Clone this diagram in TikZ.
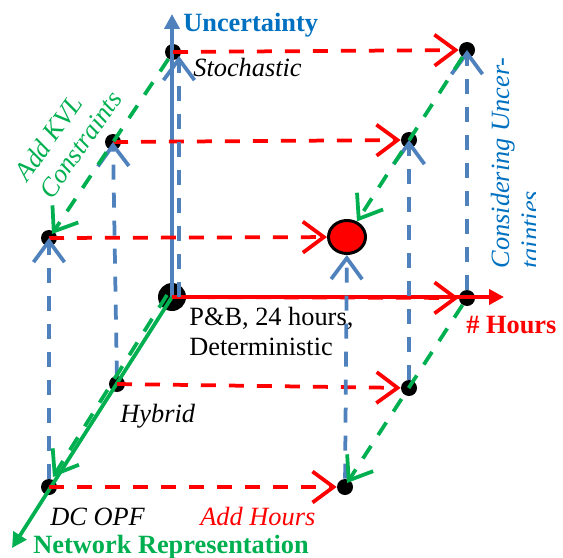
\documentclass[tikz,border=0pt]{standalone}
\usepackage{fontspec}
\setmainfont{Liberation Serif}
\usetikzlibrary{arrows.meta, calc, shapes.geometric}

\definecolor{axisblue}{RGB}{79,129,189}
\definecolor{textblue}{RGB}{0,112,192}
\definecolor{kvlgreen}{RGB}{0,176,80}
\newcommand{\lblsize}{\fontsize{15}{17}\selectfont}

\begin{document}
\begin{tikzpicture}[x=0.02cm, y=-0.02cm,
    font=\lblsize,
    % corner points of the cube
    dot/.style={circle, fill=black, inner sep=0pt, minimum size=0.32cm},
    % the three solid axes
    axis/.style={line width=0.075cm, -{Triangle[length=0.3cm, width=0.3cm]}},
    % dashed steps along each axis, open arrow heads
    stepline/.style={line width=0.075cm, dash pattern=on 0.3cm off 0.26cm,
        -{Straight Barb[length=0.42cm, width=0.62cm]}},
    hourstep/.style={stepline, red},
    uncstep/.style={stepline, axisblue},
    kvlstep/.style={stepline, kvlgreen},
    lbl/.style={anchor=base west, inner sep=0pt},
    itlbl/.style={lbl, font=\lblsize\itshape}
]
\useasboundingbox (0,0) rectangle (563,557);

% 1. Corner points (top plane: stochastic, bottom plane: deterministic)
\node[dot] (stoch)  at (173,52)  {};
\node[dot] (stochH) at (467,50)  {};
\node[dot] (hybS)   at (113,142) {};
\node[dot] (hybSH)  at (409,140) {};
\node[dot] (dcS)    at (49,238)  {};
\node[ellipse, fill=red, draw=black, line width=0.06cm, inner sep=0pt,
      minimum width=0.74cm, minimum height=0.66cm] (dcSH) at (347,237) {};
\node[dot, minimum size=0.56cm] (pb) at (172,297) {};
\node[dot] (pbH)    at (467,298) {};
\node[dot] (hyb)    at (117,384) {};
\node[dot] (hybH)   at (409,388) {};
\node[dot] (dc)     at (49,487)  {};
\node[dot] (dcH)    at (345,487) {};

\coordinate (uncTip)   at (172,14);
\coordinate (hoursTip) at (504,297);
\coordinate (netTip)   at (12,548);

% 2. Axes
\draw[axis, axisblue] (pb.center) -- (uncTip);
\draw[axis, red]      (pb.center) -- (hoursTip);
\draw[axis, kvlgreen] (pb.center) -- (netTip);

% 3. Add hours (left to right)
\foreach \a/\b in {stoch/stochH, hybS/hybSH, dcS/dcSH, pb/pbH, hyb/hybH, dc/dcH}
    \draw[hourstep] (\a.center) -- (\b);

% 4. Considering uncertainties (upwards)
\foreach \a/\b in {dc/dcS, hyb/hybS, hybH/hybSH, pbH/stochH}
    \draw[uncstep] (\a) -- (\b.center);
\draw[uncstep] (dcH) -- (dcSH);
\draw[uncstep] ($(pb)+(7,0)$) -- ($(stoch)+(6,4)$);

% 5. Add KVL constraints (towards the front)
\draw[kvlstep] (stoch) -- ($(dcS)+(3,-4)$);
\draw[kvlstep] (stochH) -- (dcSH);
\draw[kvlstep] (pbH) -- ($(dcH)+(2,-4)$);
\draw[kvlstep] ($(pb)+(-5,-2)$) -- ($(dc)+(4,-10)$);

% 6. Labels
\node[lbl, textblue, font=\lblsize\bfseries] (uncLbl) at (183,32) {Uncertainty};
\node[lbl, red, font=\lblsize\bfseries] (hoursLbl) at (466,333) {\# Hours};
\node[lbl, kvlgreen, font=\lblsize\bfseries] (netLbl) at (33,553) {Network Representation};
\node[itlbl] (stochLbl) at (193,77) {Stochastic};
\node[itlbl] (hybLbl) at (120,422) {Hybrid};
\node[itlbl] (dcLbl) at (50,525) {DC OPF};
\node[itlbl, red] (addHours) at (200,525) {Add Hours};
\node[lbl] (pbLbl) at (189,325) {P\&B, 24 hours,};
\node[lbl] (detLbl) at (189,355) {Deterministic};
\node[itlbl, kvlgreen, anchor=center, align=left, rotate=55] (kvlLbl) at (68,136)
    {Add KVL\\Constraints};
\begin{scope}
    \clip (470,30) rectangle (535,290);
    \node[itlbl, textblue, anchor=center, align=left, rotate=90] (consLbl) at (515,163)
        {Considering Uncer-\\tainties};
\end{scope}

\end{tikzpicture}
\end{document}
